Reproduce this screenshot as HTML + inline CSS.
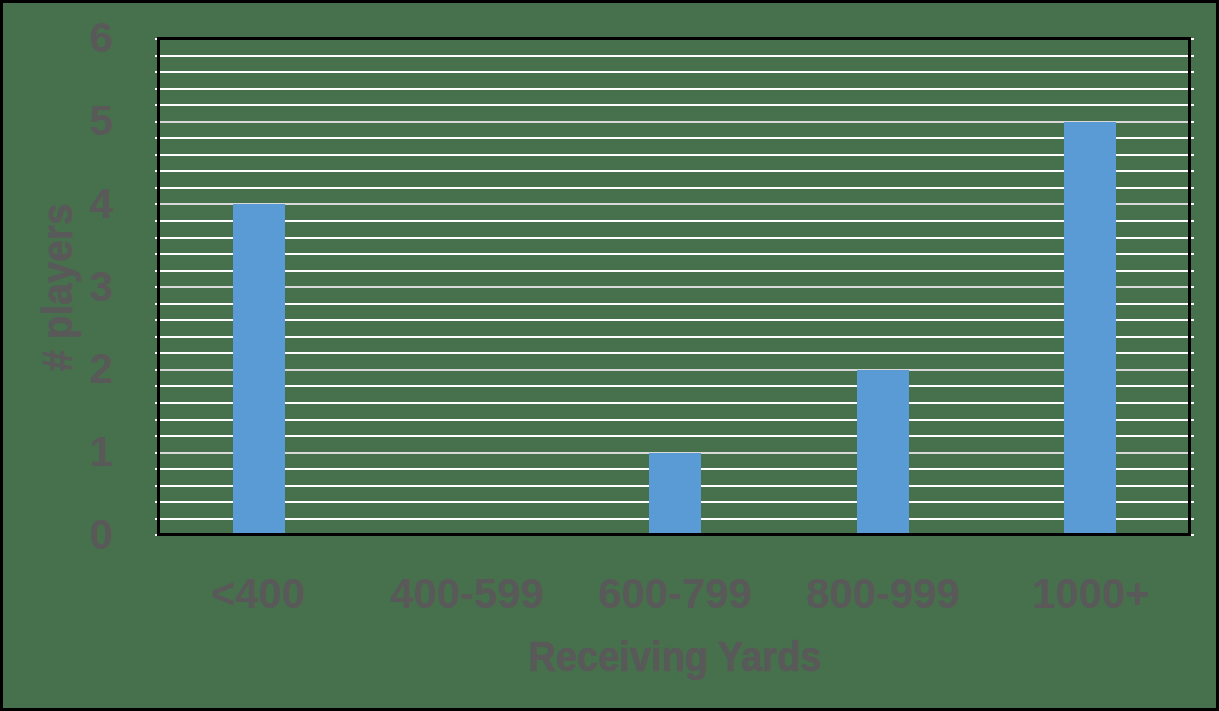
<!DOCTYPE html>
<html><head><meta charset="utf-8"><title>Receiving Yards</title>
<style>
html,body{margin:0;padding:0;}
body{width:1219px;height:711px;overflow:hidden;background:#47704c;font-family:"Liberation Sans",sans-serif;}
#c{position:relative;width:1219px;height:711px;background:#47704c;overflow:hidden;}
#c div{position:absolute;}
.g{left:155px;width:1039px;height:2px;background:#fff;}
.m{left:160px;width:1028px;height:2px;background:#d9d9d9;}
.b{background:#5b9bd5;width:52px;}
.k{background:#000;}
.t{color:#595959;font-weight:bold;white-space:nowrap;line-height:1;}
.x{font-size:43.2px;top:572.2px;width:240px;text-align:center;transform:scaleX(0.968);}
.y{font-size:43.2px;left:13px;width:100px;text-align:right;transform-origin:100% 50%;transform:scaleX(0.975);}
</style></head><body><div id="c">

<div class="g" style="top:38px"></div>
<div class="g" style="top:55px"></div>
<div class="g" style="top:71px"></div>
<div class="g" style="top:88px"></div>
<div class="g" style="top:104px"></div>
<div class="g" style="top:121px"></div>
<div class="m" style="top:121px"></div>
<div class="g" style="top:137px"></div>
<div class="g" style="top:154px"></div>
<div class="g" style="top:170px"></div>
<div class="g" style="top:187px"></div>
<div class="g" style="top:203px"></div>
<div class="m" style="top:203px"></div>
<div class="g" style="top:220px"></div>
<div class="g" style="top:237px"></div>
<div class="g" style="top:253px"></div>
<div class="g" style="top:270px"></div>
<div class="g" style="top:286px"></div>
<div class="m" style="top:286px"></div>
<div class="g" style="top:303px"></div>
<div class="g" style="top:319px"></div>
<div class="g" style="top:336px"></div>
<div class="g" style="top:352px"></div>
<div class="g" style="top:369px"></div>
<div class="m" style="top:369px"></div>
<div class="g" style="top:385px"></div>
<div class="g" style="top:402px"></div>
<div class="g" style="top:419px"></div>
<div class="g" style="top:435px"></div>
<div class="g" style="top:452px"></div>
<div class="m" style="top:452px"></div>
<div class="g" style="top:468px"></div>
<div class="g" style="top:485px"></div>
<div class="g" style="top:501px"></div>
<div class="g" style="top:518px"></div>
<div class="g" style="top:534px"></div>


<div class="b" style="left:233px;top:204px;height:331px"></div>
<div class="b" style="left:649px;top:453px;height:82px"></div>
<div class="b" style="left:857px;top:370px;height:165px"></div>
<div class="b" style="left:1064px;top:122px;height:413px"></div>


<div class="k" style="left:157px;top:37px;width:1034px;height:3px"></div>
<div class="k" style="left:157px;top:533px;width:1034px;height:3px"></div>
<div class="k" style="left:157px;top:37px;width:3px;height:499px"></div>
<div class="k" style="left:1188px;top:37px;width:3px;height:499px"></div>
<div class="k" style="left:0;top:0;width:1219px;height:3px"></div>
<div class="k" style="left:0;top:708px;width:1219px;height:3px"></div>
<div class="k" style="left:0;top:0;width:3px;height:711px"></div>
<div class="k" style="left:1216px;top:0;width:3px;height:711px"></div>


<div class="t x" style="left:138.2px">&lt;400</div>
<div class="t x" style="left:346.5px">400-599</div>
<div class="t x" style="left:554.5px">600-799</div>
<div class="t x" style="left:762.5px">800-999</div>
<div class="t x" style="left:971.0px">1000+</div>
<div class="t y" style="top:512.6px">0</div>
<div class="t y" style="top:429.9px">1</div>
<div class="t y" style="top:347.2px">2</div>
<div class="t y" style="top:264.5px">3</div>
<div class="t y" style="top:181.8px">4</div>
<div class="t y" style="top:99.1px">5</div>
<div class="t y" style="top:16.4px">6</div>
<div class="t" id="xt" style="-webkit-text-stroke:0.6px #595959;font-size:42px;left:475px;top:636px;width:400px;text-align:center;transform:scaleX(0.905)">Receiving Yards</div>
<div class="t" id="yt" style="-webkit-text-stroke:0.6px #595959;font-size:43px;left:-142.8px;top:266px;width:400px;text-align:center;transform:rotate(-90deg) scaleX(0.90)"># players</div>

</div></body></html>
